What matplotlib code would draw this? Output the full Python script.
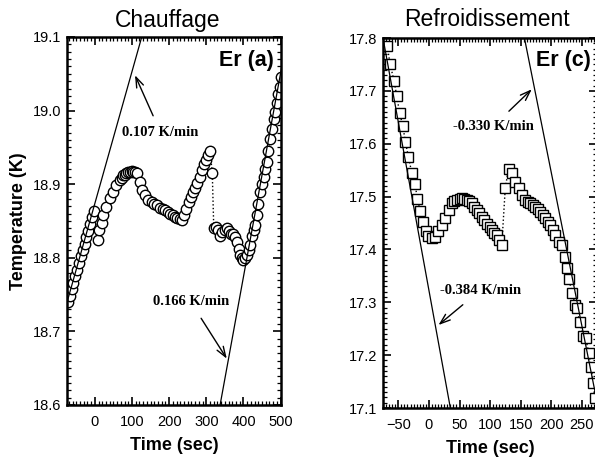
import matplotlib
matplotlib.use('Agg')
import matplotlib.pyplot as plt
from matplotlib.ticker import MultipleLocator, FormatStrFormatter

# panel (a) : chauffage, Er
heat_t = [-73, -68, -63, -58, -53, -48, -43, -38, -33, -28, -23, -18, -13, -8, -3,
          9, 12, 18, 23, 31, 40, 49, 58, 67, 72, 76, 80, 85, 90, 94, 99, 103, 108, 112,
          121, 126, 135, 144, 153, 160, 166, 175, 182, 189, 196, 202, 209, 216, 222, 228, 234,
          240, 246, 252, 258, 264, 270, 276, 282, 288, 294, 300, 305, 310, 316,
          320, 326, 332, 337, 343, 349, 355, 361, 366, 372, 377, 382, 387, 391, 395, 400,
          405, 409, 414, 418,
          422, 427, 431, 436, 440, 445, 449, 454, 458, 463, 467, 472, 476, 481, 485, 490,
          494, 497, 500]
heat_T = [18.740, 18.748, 18.757, 18.766, 18.775, 18.784, 18.793, 18.802, 18.810, 18.819,
          18.828, 18.837, 18.846, 18.855, 18.863,
          18.824, 18.838, 18.847, 18.858, 18.869, 18.881, 18.890, 18.899, 18.906, 18.909,
          18.912, 18.913, 18.915, 18.916, 18.917, 18.918, 18.917, 18.916, 18.915,
          18.903, 18.892, 18.885, 18.879, 18.876, 18.873, 18.872, 18.867, 18.866, 18.865,
          18.862, 18.860, 18.858, 18.856, 18.854, 18.853, 18.852,
          18.858, 18.866, 18.876, 18.883, 18.889, 18.895, 18.902, 18.910, 18.919, 18.927,
          18.933, 18.940, 18.945, 18.915,
          18.840, 18.842, 18.838, 18.829, 18.835, 18.838, 18.840, 18.836, 18.833, 18.833,
          18.828, 18.822, 18.812, 18.804, 18.800, 18.797,
          18.800, 18.804, 18.810, 18.817,
          18.829, 18.838, 18.845, 18.858, 18.873, 18.890, 18.900, 18.910, 18.920, 18.930,
          18.945, 18.962, 18.975, 18.988, 18.998, 19.010, 19.022, 19.032, 19.046]

# panel (c) : refroidissement, Er
cool_t = [-68, -63.5, -57, -52.5, -48, -42.7, -38.5, -33.5, -28, -22.6, -18.8, -14.4, -9,
          -4.6, -1, 4.7, 10, 15.6, 21, 26.5, 32, 37.5, 41.5, 45.7, 50, 54, 58, 62, 66, 70,
          74, 78.4, 82.5, 86.6, 90.7, 94.8, 99, 103, 107, 111, 115, 119,
          124.7, 130, 135.6, 141, 146.5, 152, 157.4, 161.5, 165.6, 169.7, 173.8, 178, 182,
          186, 190, 194, 198, 202, 206.5, 212, 217.5, 223, 225.7, 228.3, 234, 239.3, 242,
          246, 252, 256, 261, 265, 268, 272]
cool_T = [17.784, 17.751, 17.719, 17.690, 17.659, 17.634, 17.604, 17.575, 17.545, 17.523,
          17.495, 17.473, 17.452, 17.434, 17.425, 17.421, 17.424, 17.434, 17.446, 17.459,
          17.475, 17.487, 17.492, 17.494, 17.496, 17.497, 17.496, 17.494, 17.491, 17.487,
          17.481, 17.475, 17.469, 17.462, 17.456, 17.449, 17.443, 17.437, 17.432, 17.427,
          17.418, 17.408,
          17.516, 17.553, 17.544, 17.528, 17.516, 17.503, 17.494, 17.490, 17.487, 17.484,
          17.481, 17.476, 17.471, 17.465, 17.459, 17.452, 17.446, 17.437, 17.427, 17.415,
          17.408, 17.386, 17.364, 17.345, 17.317, 17.295, 17.290, 17.263, 17.236, 17.232,
          17.205, 17.178, 17.148, 17.119]

# droites de pente (extremites)
heat_fit1_t = [-76, 126]
heat_fit1_T = [18.738, 19.100]
heat_fit2_t = [337, 505]
heat_fit2_T = [18.600, 19.065]
cool_fit1_t = [-75, 35]
cool_fit1_T = [17.800, 17.100]
cool_fit2_t = [156, 280]
cool_fit2_T = [17.800, 17.080]

sans = 'Liberation Sans'
serif = 'Liberation Serif'
plt.rcParams['font.family'] = sans

fig = plt.figure(figsize=(5.95, 4.66), dpi=100)
ax1 = fig.add_axes([66.7 / 595, 1 - 405 / 466, 214.3 / 595, 368 / 466])
ax2 = fig.add_axes([383 / 595, 1 - 408 / 466, 214.3 / 595, 370 / 466])


def style(ax, xmaj, xmin, ymaj, ymin):
    for s in ax.spines.values():
        s.set_linewidth(1.8)
    ax.xaxis.set_major_locator(MultipleLocator(xmaj))
    ax.xaxis.set_minor_locator(MultipleLocator(xmin))
    ax.yaxis.set_major_locator(MultipleLocator(ymaj))
    ax.yaxis.set_minor_locator(MultipleLocator(ymin))
    ax.yaxis.set_major_formatter(FormatStrFormatter('%.1f'))
    ax.tick_params(which='both', direction='in', top=True, right=True, width=1.2)
    ax.tick_params(which='major', length=6, labelsize=10.5)
    ax.tick_params(which='minor', length=3, width=0.9)
    ax.tick_params(axis='x', pad=7)
    ax.tick_params(axis='y', pad=4)


mk = dict(markerfacecolor='white', markeredgecolor='black', markeredgewidth=1.0,
          color='black', linestyle=':', linewidth=1.0)
arrow = dict(arrowstyle='->,head_length=0.7,head_width=0.25', color='black', lw=1.0,
             shrinkA=6, shrinkB=0)
lab = dict(fontfamily=serif, fontweight='bold', fontsize=10.5, ha='center', va='center')

# --- chauffage
ax1.plot(heat_t, heat_T, marker='o', markersize=7.5, **mk)
ax1.plot(heat_fit1_t, heat_fit1_T, color='black', lw=0.9, zorder=4)
ax1.plot(heat_fit2_t, heat_fit2_T, color='black', lw=0.9, zorder=4)
ax1.set_xlim(-76, 501)
ax1.set_ylim(18.6, 19.1)
style(ax1, 100, 10, 0.1, 0.01)
ax1.annotate('0.107 K/min', xy=(108, 19.048), xytext=(177, 18.970), arrowprops=arrow, **lab)
ax1.annotate('0.166 K/min', xy=(355, 18.663), xytext=(258, 18.740), arrowprops=arrow, **lab)
ax1.text(0.965, 0.937, 'Er (a)', transform=ax1.transAxes, fontsize=15.5,
         fontweight='bold', ha='right', va='center')
ax1.set_xlabel('Time (sec)', fontsize=13, fontweight='bold', labelpad=6)
ax1.set_ylabel('Temperature (K)', fontsize=13, fontweight='bold', labelpad=4)

# --- refroidissement
ax2.plot(cool_t, cool_T, marker='s', markersize=7, **mk)
ax2.plot(cool_fit1_t, cool_fit1_T, color='black', lw=0.9, zorder=4)
ax2.plot(cool_fit2_t, cool_fit2_T, color='black', lw=0.9, zorder=4)
ax2.set_xlim(-75, 275)
ax2.set_ylim(17.1, 17.8)
style(ax2, 50, 5, 0.1, 0.01)
ax2.annotate('-0.330 K/min', xy=(168, 17.703), xytext=(105, 17.633), arrowprops=arrow, **lab)
ax2.annotate('-0.384 K/min', xy=(15.6, 17.257), xytext=(84, 17.323), arrowprops=arrow, **lab)
ax2.text(0.715, 0.94, 'Er (c)', transform=ax2.transAxes, fontsize=15.5,
         fontweight='bold', ha='left', va='center')
ax2.set_xlabel('Time (sec)', fontsize=13, fontweight='bold', labelpad=6)

fig.text(167.5 / 595, 1 - 26.5 / 466, 'Chauffage', fontsize=16.5, ha='center', va='baseline')
fig.text(486.7 / 595, 1 - 26.5 / 466, 'Refroidissement', fontsize=16.5, ha='center',
         va='baseline')

fig.savefig('out.png', dpi=100)
